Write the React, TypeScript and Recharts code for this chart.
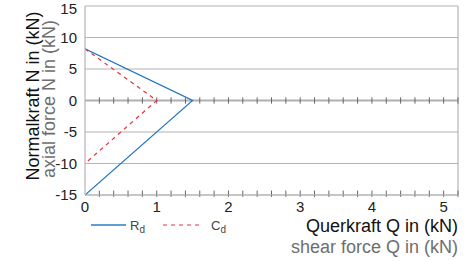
import React from "react";
import {
  LineChart,
  Line,
  XAxis,
  YAxis,
  CartesianGrid,
  ReferenceLine,
} from "recharts";

// shear force Q (kN) vs axial force N (kN)
const rdPoints = [
  { q: 0, n: 8.2 },
  { q: 1.5, n: 0 },
  { q: 0, n: -15 },
];
const cdPoints = [
  { q: 0, n: 8.2 },
  { q: 1.0, n: 0 },
  { q: 0, n: -10 },
];

const xTicks = [0, 1, 2, 3, 4, 5];
const yTicks = [-15, -10, -5, 0, 5, 10, 15];
const minorTicks = [
  0.2, 0.4, 0.6, 0.8, 1.0, 1.2, 1.4, 1.6, 1.8, 2.0, 2.2, 2.4, 2.6, 2.8, 3.0,
  3.2, 3.4, 3.6, 3.8, 4.0, 4.2, 4.4, 4.6, 4.8, 5.0, 5.2,
];

const FONT = "'Liberation Sans', Arial, sans-serif";
const GRID = "#b4b4b4";
const BLUE = "#1f74c0";
const RED = "#e8303a";

function XLabel(props: any) {
  const { viewBox } = props;
  const right = viewBox.x + viewBox.width;
  return (
    <g fontFamily={FONT} fontSize={18} textAnchor="end">
      <text x={right} y={232} fill="#111">
        Querkraft Q in (kN)
      </text>
      <text x={right} y={253} fill="#6e6e6e">
        shear force Q in (kN)
      </text>
    </g>
  );
}

function YLabel() {
  return (
    <g fontFamily={FONT} fontSize={18} textAnchor="middle">
      <text transform="translate(39 96) rotate(-90)" fill="#111">
        Normalkraft N in (kN)
      </text>
      <text transform="translate(55 99) rotate(-90)" fill="#6e6e6e">
        axial force N in (kN)
      </text>
    </g>
  );
}

function LegendBox() {
  return (
    <svg
      width={200}
      height={20}
      style={{ position: "absolute", left: 85, top: 215 }}
      fontFamily={FONT}
    >
      <line x1={6} x2={41} y1={10} y2={10} stroke="#5d9fd4" strokeWidth={2} />
      <text x={45} y={15} fontSize={13} fill="#444">
        R
        <tspan fontSize={10} dy={3}>
          d
        </tspan>
      </text>
      <line
        x1={78}
        x2={118}
        y1={10}
        y2={10}
        stroke={RED}
        strokeWidth={1}
        strokeDasharray="4 4"
      />
      <text x={126} y={15} fontSize={13} fill="#444">
        C
        <tspan fontSize={10} dy={3}>
          d
        </tspan>
      </text>
    </svg>
  );
}

export default function App() {
  return (
    <div
      style={{
        position: "absolute",
        left: 0,
        top: 0,
        width: 469,
        height: 261,
        background: "#fff",
      }}
    >
      <LineChart
        width={469}
        height={261}
        margin={{ top: 6, right: 11, left: 25, bottom: 46 }}
      >
        <CartesianGrid
          vertical={false}
          stroke={GRID}
          strokeWidth={1.2}
          horizontalValues={yTicks}
        />
        <XAxis
          type="number"
          dataKey="q"
          domain={[0, 5.2]}
          ticks={xTicks}
          allowDataOverflow
          tick={{ fontSize: 15, fill: "#222", fontFamily: FONT }}
          tickLine={false}
          tickSize={0}
          tickMargin={6}
          axisLine={{ stroke: GRID, strokeWidth: 1.2 }}
          height={20}
          label={<XLabel />}
        />
        <YAxis
          type="number"
          dataKey="n"
          domain={[-15, 15]}
          ticks={yTicks}
          allowDataOverflow
          tick={{ fontSize: 15, fill: "#222", fontFamily: FONT }}
          tickLine={false}
          tickSize={0}
          tickMargin={8}
          axisLine={{ stroke: GRID, strokeWidth: 1.2 }}
          width={60}
          label={<YLabel />}
        />
        <ReferenceLine x={5.2} stroke={GRID} strokeWidth={1.2} ifOverflow="visible" />
        <ReferenceLine y={0} stroke="#b0b0b0" strokeWidth={2} />
        {minorTicks.map((t) => (
          <ReferenceLine
            key={"m0" + t}
            segment={[
              { x: t, y: -0.5 },
              { x: t, y: 0.5 },
            ]}
            stroke="#666"
            strokeWidth={1}
            ifOverflow="visible"
          />
        ))}
        {minorTicks.map((t) => (
          <ReferenceLine
            key={"mb" + t}
            segment={[
              { x: t, y: -15.3 },
              { x: t, y: -14.3 },
            ]}
            stroke="#666"
            strokeWidth={1}
            ifOverflow="visible"
          />
        ))}
        <Line
          data={rdPoints}
          dataKey="n"
          type="linear"
          stroke={BLUE}
          strokeWidth={1.2}
          dot={false}
          isAnimationActive={false}
        />
        <Line
          data={cdPoints}
          dataKey="n"
          type="linear"
          stroke={RED}
          strokeWidth={1.2}
          strokeDasharray="4 4"
          dot={false}
          isAnimationActive={false}
        />
      </LineChart>
      <LegendBox />
    </div>
  );
}
